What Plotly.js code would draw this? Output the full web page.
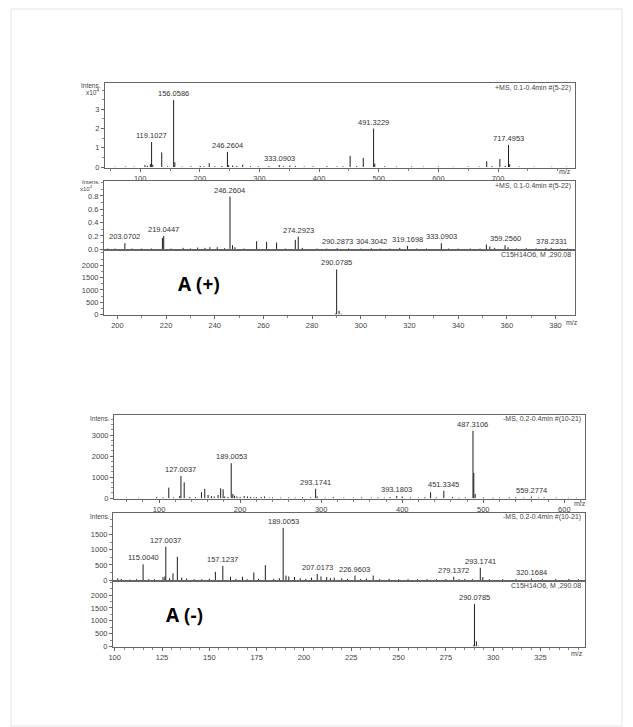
<!DOCTYPE html>
<html><head><meta charset="utf-8">
<script src="https://cdn.plot.ly/plotly-3.0.1.min.js"></script>
<style>html,body{margin:0;padding:0;background:#fff;}#chart{width:633px;height:727px;}</style>
</head><body><div id="chart"></div>
<script>
// ---------- DATA ----------
// A(+) full MS scan, intensity x10^4
const posFullMz  = [58, 75, 90, 108, 112, 117.1, 119.1, 121.1, 136.1, 146, 156.06, 158.1, 170, 185, 200.6, 207, 215.7, 225, 237, 246.26, 248.3, 255, 262, 272, 285, 298, 316, 333.09, 340, 351, 360, 375, 390, 413, 430, 440, 452, 463, 474, 491.32, 493.3, 510, 530, 555, 575, 600, 625, 650, 668, 681, 690, 703, 712, 717.5, 719.5, 735, 760, 790, 815];
const posFullInt = [0.02, 0.03, 0.02, 0.1, 0.06, 0.15, 1.3, 0.12, 0.76, 0.04, 3.48, 0.25, 0.03, 0.04, 0.06, 0.04, 0.2, 0.04, 0.05, 0.78, 0.1, 0.08, 0.05, 0.12, 0.04, 0.04, 0.05, 0.1, 0.04, 0.08, 0.05, 0.03, 0.04, 0.05, 0.03, 0.04, 0.58, 0.05, 0.47, 2.0, 0.18, 0.04, 0.03, 0.03, 0.02, 0.03, 0.02, 0.03, 0.03, 0.3, 0.05, 0.42, 0.06, 1.15, 0.15, 0.03, 0.02, 0.02, 0.02];
const posFullLabels = ["119.1027", "156.0586", "246.2604", "333.0903", "491.3229", "717.4953"];

// A(+) zoomed MS scan, intensity x10^4
const posZoomMz  = [196, 199, 203.07, 206, 210, 214, 218.5, 219.04, 222, 227, 230, 233, 236, 238, 241, 244, 246.26, 247.3, 248.3, 252, 257.2, 261.3, 265.4, 269, 273.1, 274.29, 276, 282, 286, 290.29, 295, 300, 304.30, 308, 312, 316, 319.17, 323, 327, 333.09, 336, 340, 345, 349, 351.6, 353, 355, 359.26, 360.5, 364, 368, 372, 376, 378.23, 382, 385];
const posZoomInt = [0.01, 0.01, 0.09, 0.01, 0.01, 0.01, 0.17, 0.2, 0.01, 0.02, 0.01, 0.025, 0.02, 0.03, 0.03, 0.015, 0.79, 0.06, 0.03, 0.01, 0.12, 0.11, 0.1, 0.01, 0.14, 0.19, 0.02, 0.01, 0.01, 0.015, 0.01, 0.01, 0.015, 0.01, 0.01, 0.02, 0.05, 0.01, 0.01, 0.09, 0.01, 0.01, 0.01, 0.01, 0.07, 0.04, 0.02, 0.06, 0.03, 0.01, 0.015, 0.01, 0.02, 0.02, 0.01, 0.01];
const posZoomLabels = ["203.0702", "219.0447", "246.2604", "274.2923", "290.2873", "304.3042", "319.1698", "333.0903", "359.2560", "378.2331"];

// A(+) simulated C15H14O6
const posMolMz  = [289.6, 290.08, 291.08, 292.1];
const posMolInt = [40, 1830, 150, 30];
const posMolLabels = ["290.0785"];

// A(-) full MS scan
const negFullMz  = [60, 75, 97, 105, 112, 118, 125.5, 127.0, 131, 138, 145, 152.3, 156.4, 160.5, 164.6, 168, 172.8, 176, 179, 181, 185, 189.01, 191, 193, 196, 200, 205, 209, 213, 217, 220, 226, 230, 236, 240, 250, 260, 268, 277, 287, 293.17, 295, 305, 315, 328, 340, 350, 362, 370, 378, 385, 393.18, 400, 410, 420, 428, 435, 442, 451.33, 462, 470, 478, 487.31, 488.3, 490, 500, 512, 520, 532, 540, 550, 559.28, 568, 575, 590, 605, 615];
const negFullInt = [20, 20, 50, 40, 500, 40, 100, 1050, 750, 60, 50, 280, 440, 150, 100, 80, 150, 470, 420, 80, 60, 1660, 200, 120, 80, 60, 100, 80, 60, 40, 50, 60, 80, 30, 40, 30, 40, 30, 50, 40, 450, 80, 30, 50, 30, 30, 40, 30, 40, 30, 50, 100, 80, 40, 30, 50, 280, 40, 350, 50, 30, 40, 3200, 1200, 200, 40, 30, 30, 40, 40, 30, 70, 30, 40, 30, 20, 20];
const negFullLabels = ["127.0037", "189.0053", "293.1741", "393.1803", "451.3345", "487.3106", "559.2774"];

// A(-) zoomed MS scan
const negZoomMz  = [101.6, 103.5, 108, 111.5, 115.0, 118, 121, 125.5, 126.5, 127.0, 129, 130.8, 133.1, 135.4, 138, 142, 146, 150, 153.2, 157.12, 161.2, 164, 167.5, 170, 173.5, 176, 179.6, 184, 187, 189.01, 190.5, 192, 195, 198, 201, 204, 207.02, 209, 212, 214, 216, 220, 223, 226.96, 230, 233, 236.6, 240, 245, 250, 255, 260, 265, 270, 275, 279.14, 282, 285, 289, 293.17, 294.5, 298, 305, 312, 320.17, 326, 333, 340, 345];
const negZoomInt = [60, 40, 20, 30, 520, 30, 30, 100, 120, 1100, 60, 220, 770, 80, 50, 30, 30, 40, 270, 470, 110, 40, 110, 30, 250, 40, 490, 40, 60, 1720, 150, 120, 100, 60, 40, 80, 200, 120, 100, 60, 80, 60, 40, 150, 40, 50, 150, 30, 40, 30, 30, 30, 30, 30, 40, 110, 30, 40, 30, 405, 100, 30, 30, 30, 50, 30, 30, 40, 30];
const negZoomLabels = ["115.0040", "127.0037", "157.1237", "189.0053", "207.0173", "226.9603", "279.1372", "293.1741", "320.1684"];

// A(-) simulated C15H14O6
const negMolMz  = [289.6, 290.08, 291.08, 292.1];
const negMolInt = [40, 1650, 200, 30];
const negMolLabels = ["290.0785"];

// Tick labels
const xTicks1 = [100, 200, 300, 400, 500, 600, 700];
const xTicks3 = [200, 220, 240, 260, 280, 300, 320, 340, 360, 380];
const xTicks4 = [100, 200, 300, 400, 500, 600];
const xTicks6 = [100, 125, 150, 175, 200, 225, 250, 275, 300, 325];
const yTicks1 = [0, 1, 2, 3];
const yTicks2 = [0, 0.2, 0.4, 0.6, 0.8];
const yTicks2Text = ["0.0", "0.2", "0.4", "0.6", "0.8"];
const yTicks3 = [0, 500, 1000, 1500, 2000];
const yTicks4 = [0, 1000, 2000, 3000];
const yTicks5 = [0, 500, 1000, 1500];
const yTicks6 = [0, 500, 1000, 1500, 2000];

// ---------- BUILD ----------
const W = 633, H = 727;
const px = v => v / W;
const py = v => 1 - v / H;
const FONT = 'Liberation Sans, Arial, sans-serif';
const TXT = '#444';

function sticks(mz, inten, xa, ya) {
  const x = [], y = [];
  mz.forEach((m, i) => { x.push(m, m, null); y.push(0, inten[i], null); });
  return {type: 'scatter', mode: 'lines', x, y, xaxis: xa, yaxis: ya,
    line: {color: '#1e1e1e', width: 1}, hoverinfo: 'skip', showlegend: false};
}
const annotations = [];
function peakLabels(labels, mz, inten, xa, ya) {
  labels.forEach(t => {
    const v = parseFloat(t);
    let best = 0;
    mz.forEach((m, i) => { if (Math.abs(m - v) < Math.abs(mz[best] - v)) best = i; });
    annotations.push({x: v, y: inten[best], xref: xa, yref: ya, text: t, showarrow: false,
      yanchor: 'bottom', yshift: 0, font: {family: FONT, size: 7.5, color: '#333'}});
  });
}
function ax(domain, range, extra) {
  return Object.assign({domain, range, showline: true, mirror: true, linecolor: '#666', linewidth: 1,
    ticks: 'outside', ticklen: 3, tickcolor: '#666', tickwidth: 1, showgrid: false, zeroline: false,
    fixedrange: true, tickfont: {family: FONT, size: 7.5, color: TXT}}, extra || {});
}
function note(x, y, text, anchor, size) {
  annotations.push({xref: 'paper', yref: 'paper', x: px(x), y: py(y), text, showarrow: false,
    xanchor: anchor, yanchor: 'middle', font: {family: FONT, size: size || 7, color: TXT}});
}

const traces = [
  sticks(posFullMz, posFullInt, 'x', 'y'),
  sticks(posZoomMz, posZoomInt, 'x2', 'y2'),
  sticks(posMolMz, posMolInt, 'x3', 'y3'),
  sticks(negFullMz, negFullInt, 'x4', 'y4'),
  sticks(negZoomMz, negZoomInt, 'x5', 'y5'),
  sticks(negMolMz, negMolInt, 'x6', 'y6')
];
peakLabels(posFullLabels, posFullMz, posFullInt, 'x', 'y');
peakLabels(posZoomLabels, posZoomMz, posZoomInt, 'x2', 'y2');
peakLabels(posMolLabels, posMolMz, posMolInt, 'x3', 'y3');
peakLabels(negFullLabels, negFullMz, negFullInt, 'x4', 'y4');
peakLabels(negZoomLabels, negZoomMz, negZoomInt, 'x5', 'y5');
peakLabels(negMolLabels, negMolMz, negMolInt, 'x6', 'y6');

// text notes
note(103, 85.5, 'Intens.', 'right', 6.5);
note(101, 92, 'x10<sup>4</sup>', 'right', 6.5);
note(573, 87.5, '+MS, 0.1-0.4min #(5-22)', 'right', 7);
note(573, 171.5, 'm/z', 'right', 7);
note(102, 182, 'Intens.', 'right', 6);
note(95, 188, 'x10<sup>4</sup>', 'right', 6);
note(573, 186, '+MS, 0.1-0.4min #(5-22)', 'right', 7);
note(573, 254.5, 'C15H14O6, M ,290.08', 'right', 7);
note(564, 322, 'm/z', 'left', 7);
note(112, 418, 'Intens.', 'right', 6.5);
note(583, 419, '-MS, 0.2-0.4min #(10-21)', 'right', 7);
note(572, 503.5, 'm/z', 'left', 7);
note(112, 516, 'Intens.', 'right', 6.5);
note(583, 517, '-MS, 0.2-0.4min #(10-21)', 'right', 7);
note(583, 585.5, 'C15H14O6, M ,290.08', 'right', 7);
note(585, 653, 'm/z', 'right', 7);
annotations.push({xref: 'paper', yref: 'paper', x: px(176), y: py(284), text: '<b>A (+)</b>', showarrow: false,
  xanchor: 'left', yanchor: 'middle', font: {family: 'Open Sans, Liberation Sans, sans-serif', size: 19, color: '#000'}});
annotations.push({xref: 'paper', yref: 'paper', x: px(164), y: py(615), text: '<b>A (-)</b>', showarrow: false,
  xanchor: 'left', yanchor: 'middle', font: {family: 'Open Sans, Liberation Sans, sans-serif', size: 19, color: '#000'}});

const layout = {
  width: W, height: H, margin: {l: 0, r: 0, t: 0, b: 0},
  paper_bgcolor: '#fff', plot_bgcolor: '#fff', showlegend: false,
  annotations,
  shapes: [{type: 'rect', xref: 'paper', yref: 'paper', x0: px(11), x1: px(622), y0: py(726), y1: py(9),
    line: {color: '#e4e4e4', width: 1}}],
  // panel 1
  xaxis: ax([px(105), px(575)], [41, 829], {anchor: 'y', tickvals: xTicks1,
    minor: {ticks: 'outside', ticklen: 2, dtick: 50, tickcolor: '#888'}}),
  yaxis: ax([py(168), py(83)], [-0.05, 4.37], {anchor: 'x', tickvals: yTicks1,
    minor: {ticks: 'outside', ticklen: 2, dtick: 0.5, tickcolor: '#888'}}),
  // panel 2
  xaxis2: ax([px(104), px(575)], [194.5, 388], {anchor: 'y2', showticklabels: false, ticks: ''}),
  yaxis2: ax([py(250), py(181)], [-0.012, 1.024], {anchor: 'x2', tickvals: yTicks2, ticktext: yTicks2Text,
    minor: {ticks: 'outside', ticklen: 2, dtick: 0.1, tickcolor: '#888'}}),
  // panel 3
  xaxis3: ax([px(104), px(575)], [194.5, 388], {anchor: 'y3', tickvals: xTicks3,
    minor: {ticks: 'outside', ticklen: 2, dtick: 10, tickcolor: '#888'}}),
  yaxis3: ax([py(314.5), py(250)], [0, 2620], {anchor: 'x3', tickvals: yTicks3,
    minor: {ticks: 'outside', ticklen: 2, dtick: 250, tickcolor: '#888'}}),
  // panel 4
  xaxis4: ax([px(114), px(585)], [44.4, 625.5], {anchor: 'y4', tickvals: xTicks4,
    minor: {ticks: 'outside', ticklen: 2, dtick: 20, tickcolor: '#888'}}),
  yaxis4: ax([py(499), py(415)], [-40, 3950], {anchor: 'x4', tickvals: yTicks4,
    minor: {ticks: 'outside', ticklen: 2, dtick: 250, tickcolor: '#888'}}),
  // panel 5
  xaxis5: ax([px(113), px(585)], [99.1, 348.5], {anchor: 'y5', showticklabels: false, ticks: ''}),
  yaxis5: ax([py(581), py(512.5)], [-30, 2227], {anchor: 'x5', tickvals: yTicks5,
    minor: {ticks: 'outside', ticklen: 2, dtick: 250, tickcolor: '#888'}}),
  // panel 6
  xaxis6: ax([px(113), px(585)], [99.1, 348.5], {anchor: 'y6', tickvals: xTicks6,
    minor: {ticks: 'outside', ticklen: 2, dtick: 5, tickcolor: '#888'}}),
  yaxis6: ax([py(646.5), py(581)], [0, 2549], {anchor: 'x6', tickvals: yTicks6,
    minor: {ticks: 'outside', ticklen: 2, dtick: 250, tickcolor: '#888'}})
};

Plotly.newPlot('chart', traces, layout, {staticPlot: true, displayModeBar: false});
</script>
</body></html>
